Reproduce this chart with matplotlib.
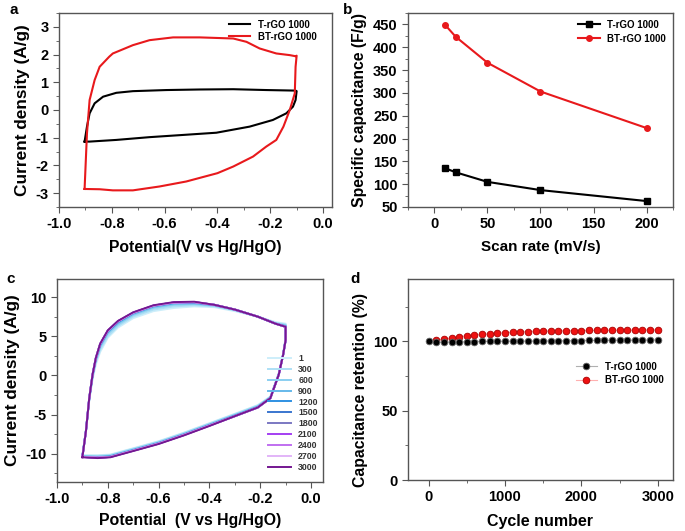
import numpy as np
import matplotlib.pyplot as plt
from matplotlib.ticker import MultipleLocator

plt.rcParams['font.family'] = ['Liberation Sans', 'DejaVu Sans']
plt.rcParams['font.weight'] = 'bold'
plt.rcParams['axes.labelweight'] = 'bold'

# ---- panel a: CV at one scan rate ----
a_t_pot = [-0.903, -0.894, -0.884, -0.865, -0.833, -0.783, -0.72, -0.593, -0.467, -0.34,
           -0.215, -0.104, -0.100, -0.104, -0.114, -0.139, -0.19, -0.278, -0.404, -0.53,
           -0.657, -0.783, -0.884, -0.903]
a_t_cur = [-1.14, -0.6, -0.12, 0.24, 0.48, 0.62, 0.68, 0.72, 0.74, 0.75,
           0.72, 0.70, 0.68, 0.36, 0.12, -0.12, -0.36, -0.6, -0.82, -0.9,
           -0.98, -1.08, -1.14, -1.14]
a_bt_pot = [-0.903, -0.894, -0.884, -0.865, -0.846, -0.81, -0.796, -0.72, -0.657, -0.568,
            -0.467, -0.34, -0.29, -0.24, -0.177, -0.126, -0.104, -0.100, -0.104, -0.107,
            -0.126, -0.15, -0.177, -0.215, -0.265, -0.34, -0.40, -0.518, -0.619, -0.72,
            -0.796, -0.846, -0.903]
a_bt_cur = [-2.85, -0.84, 0.36, 1.08, 1.56, 1.92, 2.04, 2.34, 2.52, 2.62,
            2.62, 2.58, 2.46, 2.22, 2.04, 1.98, 1.94, 1.96, 1.56, 0.6,
            0.0, -0.6, -1.08, -1.32, -1.68, -2.04, -2.28, -2.58, -2.76, -2.9,
            -2.9, -2.86, -2.85]

# ---- panel b: capacitance vs scan rate ----
scan_rate = [10, 20, 50, 100, 200]
cap_t = [135, 126, 105, 87, 63]
cap_bt = [449, 423, 366, 303, 223]

# ---- panel c: CV over cycling ----
c_pot = [-0.900, -0.886, -0.873, -0.860, -0.847, -0.830, -0.800, -0.760, -0.700, -0.620,
         -0.540, -0.460, -0.380, -0.300, -0.210, -0.140, -0.100, -0.100, -0.110, -0.127,
         -0.160, -0.210, -0.300, -0.400, -0.500, -0.600, -0.700, -0.790, -0.840, -0.900]
c_labels = ['1', '300', '600', '900', '1200', '1500', '1800', '2100', '2400', '2700', '3000']
c_colors = ['#cdeefa', '#ade0f6', '#8bcff1', '#66b9ea', '#2f90e2', '#3a76cf', '#7b78c2',
            '#a43ff2', '#c06ff0', '#e2b4f8', '#741790']
c_cur = [
    [-10.2, -7.0, -3.2, -0.5, 1.4, 3.0, 4.8, 6.1, 7.3, 8.2, 8.6, 8.8, 8.7, 8.2, 7.5, 6.8, 6.6, 4.8, 2.8, 0.3,
     -2.7, -3.8, -4.9, -6.1, -7.3, -8.4, -9.3, -10.1, -10.2, -10.2],
    [-10.25, -7.0, -3.1, -0.3, 1.7, 3.3, 5.0, 6.3, 7.5, 8.4, 8.8, 8.95, 8.8, 8.3, 7.5, 6.7, 6.5, 4.7, 2.7, 0.2,
     -2.75, -3.85, -4.95, -6.15, -7.35, -8.45, -9.35, -10.15, -10.25, -10.25],
    [-10.3, -7.05, -3.0, -0.1, 1.9, 3.6, 5.3, 6.5, 7.7, 8.6, 9.0, 9.1, 8.9, 8.35, 7.5, 6.65, 6.4, 4.6, 2.65, 0.15,
     -2.8, -3.95, -5.05, -6.25, -7.45, -8.55, -9.45, -10.25, -10.35, -10.3],
    [-10.35, -7.05, -2.95, 0.0, 2.05, 3.8, 5.5, 6.7, 7.85, 8.75, 9.15, 9.2, 8.95, 8.4, 7.5, 6.6, 6.3, 4.55, 2.6, 0.1,
     -2.85, -4.0, -5.1, -6.3, -7.5, -8.6, -9.5, -10.3, -10.4, -10.35],
    [-10.35, -7.1, -2.9, 0.05, 2.15, 3.9, 5.6, 6.8, 7.95, 8.85, 9.25, 9.3, 9.0, 8.4, 7.5, 6.6, 6.25, 4.5, 2.6, 0.1,
     -2.9, -4.05, -5.15, -6.35, -7.55, -8.65, -9.55, -10.35, -10.45, -10.4],
    [-10.4, -7.1, -2.9, 0.1, 2.2, 4.0, 5.7, 6.9, 8.0, 8.9, 9.3, 9.35, 9.0, 8.4, 7.5, 6.6, 6.2, 4.5, 2.6, 0.1,
     -2.9, -4.1, -5.2, -6.4, -7.6, -8.7, -9.6, -10.4, -10.5, -10.4],
    [-10.4, -7.1, -2.9, 0.1, 2.2, 4.0, 5.7, 6.9, 8.0, 8.9, 9.3, 9.35, 9.0, 8.4, 7.5, 6.6, 6.2, 4.5, 2.6, 0.1,
     -2.9, -4.1, -5.2, -6.4, -7.6, -8.7, -9.6, -10.4, -10.5, -10.4],
    [-10.4, -7.1, -2.9, 0.1, 2.2, 4.0, 5.7, 6.9, 8.0, 8.9, 9.3, 9.35, 9.0, 8.4, 7.5, 6.6, 6.2, 4.5, 2.6, 0.1,
     -2.9, -4.1, -5.2, -6.4, -7.6, -8.7, -9.6, -10.4, -10.5, -10.4],
    [-10.4, -7.1, -2.9, 0.1, 2.2, 4.0, 5.7, 6.9, 8.0, 8.9, 9.3, 9.35, 9.0, 8.4, 7.5, 6.6, 6.2, 4.5, 2.6, 0.1,
     -2.9, -4.1, -5.2, -6.4, -7.6, -8.7, -9.6, -10.4, -10.5, -10.4],
    [-10.4, -7.1, -2.9, 0.1, 2.2, 4.0, 5.7, 6.9, 8.0, 8.9, 9.3, 9.35, 9.0, 8.4, 7.5, 6.6, 6.2, 4.5, 2.6, 0.1,
     -2.9, -4.1, -5.2, -6.4, -7.6, -8.7, -9.6, -10.4, -10.5, -10.4],
    [-10.45, -7.1, -2.9, 0.1, 2.25, 4.05, 5.75, 6.95, 8.05, 8.95, 9.35, 9.4, 9.0, 8.4, 7.5, 6.6, 6.2, 4.5, 2.6, 0.1,
     -2.9, -4.1, -5.2, -6.45, -7.65, -8.75, -9.65, -10.45, -10.55, -10.45],
]

# ---- panel d: retention ----
cycles = list(range(0, 3001, 100))
ret_t = [100.0, 99.3, 99.4, 99.6, 99.7, 99.8, 99.9, 100.0, 100.0, 100.1, 100.1,
         100.2, 100.2, 100.3, 100.3, 100.4, 100.4, 100.5, 100.5, 100.6, 100.6,
         100.7, 100.7, 100.8, 100.8, 100.9, 100.9, 101.0, 101.0, 101.1, 101.1]
ret_bt = [100.0, 101.0, 101.6, 102.5, 103.4, 104.0, 104.6, 105.0, 105.5, 105.9, 106.3,
          106.6, 106.9, 107.1, 107.3, 107.4, 107.5, 107.6, 107.7, 107.8, 107.8,
          107.9, 107.9, 108.0, 108.0, 108.1, 108.1, 108.2, 108.2, 108.3, 108.3]

fig = plt.figure(figsize=(6.85, 5.31), dpi=100)
ax_a = fig.add_axes([0.0861, 0.6102, 0.3986, 0.3653])
ax_b = fig.add_axes([0.5956, 0.6102, 0.3869, 0.3653])
ax_c = fig.add_axes([0.0832, 0.0923, 0.3883, 0.3823])
ax_d = fig.add_axes([0.5956, 0.0960, 0.3869, 0.3786])


def style(ax):
    for s in ax.spines.values():
        s.set_color('#555555')
        s.set_linewidth(1.0)
    ax.tick_params(which='both', direction='out', color='#555555', labelsize=10.5)
    ax.tick_params(which='major', length=4)
    ax.tick_params(which='minor', length=2.5)


# a
ax_a.plot(a_t_pot, a_t_cur, color='black', lw=1.5, label='T-rGO 1000')
ax_a.plot(a_bt_pot, a_bt_cur, color='#e8191c', lw=1.5, label='BT-rGO 1000')
ax_a.set_xlim(-1.0, 0.034)
ax_a.set_ylim(-3.5, 3.5)
ax_a.xaxis.set_minor_locator(MultipleLocator(0.1))
ax_a.yaxis.set_minor_locator(MultipleLocator(0.5))
ax_a.set_xticks([-1.0, -0.8, -0.6, -0.4, -0.2, 0.0])
ax_a.set_xticklabels(['-1.0', '-0.8', '-0.6', '-0.4', '-0.2', '0.0'])
ax_a.set_yticks([-3, -2, -1, 0, 1, 2, 3])
ax_a.set_yticklabels(['-3', '-2', '-1', '0', '1', '2', '3'])
ax_a.set_xlabel('Potential(V vs Hg/HgO)', fontsize=11.3, labelpad=6)
ax_a.set_ylabel('Current density (A/g)', fontsize=12.4)
ax_a.legend(loc='upper right', bbox_to_anchor=(0.97, 1.0), frameon=False, fontsize=7,
            handlelength=2.2, borderaxespad=0.3, labelspacing=0.2)
style(ax_a)

# b
ax_b.plot(scan_rate, cap_t, color='black', marker='s', ms=4, lw=1.5, label='T-rGO 1000')
ax_b.plot(scan_rate, cap_bt, color='#e8191c', marker='o', ms=4, lw=1.5, label='BT-rGO 1000')
ax_b.set_xlim(-25, 225)
ax_b.set_ylim(50, 475)
ax_b.xaxis.set_major_locator(MultipleLocator(50))
ax_b.xaxis.set_minor_locator(MultipleLocator(25))
ax_b.yaxis.set_major_locator(MultipleLocator(50))
ax_b.yaxis.set_minor_locator(MultipleLocator(25))
ax_b.set_xlabel('Scan rate (mV/s)', fontsize=11, labelpad=6)
ax_b.set_ylabel('Specific capacitance (F/g)', fontsize=11.3)
ax_b.legend(loc='upper right', frameon=False, fontsize=7, handlelength=2.2,
            borderaxespad=0.3, labelspacing=0.4)
style(ax_b)

# c
for lab, col, cur in zip(c_labels, c_colors, c_cur):
    ax_c.plot(c_pot, cur, color=col, lw=1.4, label=lab)
ax_c.set_xlim(-1.0, 0.047)
ax_c.set_ylim(-13.6, 12.3)
ax_c.set_xticks([-1.0, -0.8, -0.6, -0.4, -0.2, 0.0])
ax_c.set_xticklabels(['-1.0', '-0.8', '-0.6', '-0.4', '-0.2', '0.0'])
ax_c.xaxis.set_minor_locator(MultipleLocator(0.1))
ax_c.set_yticks([-10, -5, 0, 5, 10])
ax_c.set_yticklabels(['-10', '-5', '0', '5', '10'])
ax_c.yaxis.set_minor_locator(MultipleLocator(2.5))
ax_c.set_xlabel('Potential  (V vs Hg/HgO)', fontsize=11.4, labelpad=5)
ax_c.set_ylabel('Current density (A/g)', fontsize=12.4)
leg = ax_c.legend(loc='center right', bbox_to_anchor=(1.0, 0.34), frameon=False,
                  fontsize=6.3, handlelength=2.6, labelspacing=0.22, borderaxespad=0.2)
for t in leg.get_texts():
    t.set_color('#333333')
style(ax_c)

# d
ax_d.plot(cycles, ret_t, color='#b0b0b0', lw=0.8, marker='o', ms=4.8,
          mfc='black', mec='#666666', mew=0.6, label='T-rGO 1000', zorder=3)
ax_d.plot(cycles[1:], ret_bt[1:], color='#ffb0b0', lw=0.8, marker='o', ms=4.8,
          mfc='#ee1111', mec='#aa0000', mew=0.6, label='BT-rGO 1000', zorder=2)
ax_d.set_xlim(-270, 3200)
ax_d.set_ylim(0, 145)
ax_d.xaxis.set_major_locator(MultipleLocator(1000))
ax_d.xaxis.set_minor_locator(MultipleLocator(500))
ax_d.yaxis.set_major_locator(MultipleLocator(50))
ax_d.yaxis.set_minor_locator(MultipleLocator(25))
ax_d.set_xlabel('Cycle number', fontsize=11.5, labelpad=7)
ax_d.set_ylabel('Capacitance retention (%)', fontsize=11.3)
ax_d.yaxis.set_label_coords(-0.15, 0.45)
ax_d.legend(loc='center left', bbox_to_anchor=(0.6, 0.53), frameon=False,
            fontsize=7, handlelength=2.2, labelspacing=0.4)
style(ax_d)

for txt, x, y in [('a', 0.014, 0.995), ('b', 0.500, 0.995), ('c', 0.010, 0.487), ('d', 0.512, 0.487)]:
    fig.text(x, y, txt, fontsize=11, fontweight='bold', va='top')

fig.savefig('out.png', dpi=100)
